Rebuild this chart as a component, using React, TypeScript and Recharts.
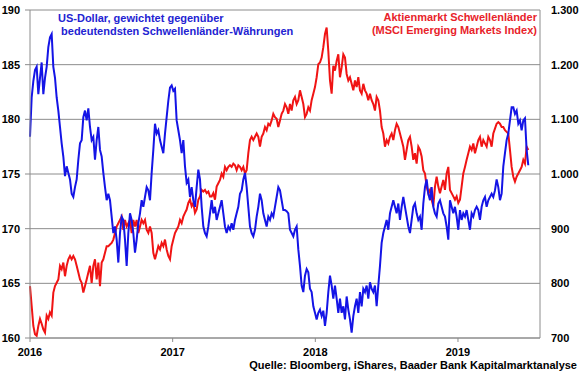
import { LineChart, Line, XAxis, YAxis, CartesianGrid } from "recharts";

// sampled roughly every 4 days, starting 1 Jan 2016
const startYear = 2016;
const samplesPerYear = 85.6;

const usdVsEmCurrencies = [
  178.4, 182.0, 183.5, 184.5, 184.8, 182.3, 183.8, 185.2, 182.3, 183.8,
  184.8, 186.6, 187.5, 187.8, 184.8, 183.8, 182.0, 180.8, 179.3, 177.8,
  176.6, 174.8, 175.7, 175.1, 174.5, 173.2, 172.9, 173.8, 174.5, 176.3,
  177.8, 178.1, 180.2, 180.8, 179.9, 181.0, 179.3, 178.1, 178.4, 176.3,
  178.1, 179.3, 177.2, 176.6, 175.1, 173.8, 172.6, 173.2, 172.6, 171.1,
  169.6, 170.2, 169.0, 166.9, 169.6, 171.1, 170.8, 169.0, 166.6, 169.6,
  171.4, 170.8, 169.6, 167.8, 169.0, 170.5, 171.4, 172.6, 172.0, 172.9,
  173.8, 173.5, 172.6, 175.1, 177.2,
  179.6, 178.7, 179.0, 178.1, 177.5, 176.9, 178.7, 180.2, 181.7, 182.9,
  183.1, 182.6, 182.8, 179.9, 179.0, 178.1, 176.9, 178.1, 175.7, 174.2,
  174.5, 172.9, 173.8, 172.6, 172.0, 173.8, 175.4, 174.5, 172.0, 170.2,
  169.6, 169.3, 170.2, 171.4, 172.6, 171.4, 172.0, 170.8, 171.4, 172.0,
  172.6, 171.4, 170.2, 169.6, 170.2, 169.9, 170.5, 169.9, 170.8, 171.4,
  172.0, 173.2, 173.5, 174.5, 175.1, 173.8, 172.0, 170.2, 169.6, 169.3,
  169.9, 171.1, 172.0, 173.2, 172.6, 171.4, 170.8, 170.2, 171.1, 170.8,
  171.4, 171.1, 172.0, 172.9, 173.8, 173.5, 172.6, 171.7,
  171.7, 171.6, 171.4, 169.9, 169.6, 169.3, 169.9, 170.2, 168.1, 166.6,
  164.8, 164.2, 165.7, 166.3, 166.0, 164.5, 164.2, 162.9, 162.3, 161.7,
  162.3, 162.6, 162.0, 162.5, 161.1, 162.3, 164.2, 165.7, 164.8, 163.6,
  164.8, 163.6, 162.3, 163.6, 162.3, 162.9, 161.7, 163.8, 162.6, 161.7,
  160.5, 162.0, 162.9, 163.6, 162.3, 164.2, 162.9, 164.5, 164.2, 164.8,
  163.6, 165.1, 164.5, 164.2, 164.8, 162.9, 164.8, 166.6, 168.7, 169.6,
  170.2, 170.8, 169.9, 171.4, 172.0, 172.6, 172.0, 171.4, 172.3, 170.8,
  172.0, 172.9, 172.0, 171.1, 170.2, 169.6, 170.8, 172.0,
  172.3, 171.4, 170.8, 171.1, 169.9, 172.3, 173.8, 174.5, 173.2, 172.6,
  173.8, 172.0, 171.4, 171.1, 172.3, 172.6, 172.0, 171.4, 171.1, 170.2,
  169.0, 172.6, 172.0, 171.4, 172.0, 171.1, 169.9, 171.7, 170.8, 171.4,
  171.1, 171.7, 170.8, 169.9, 171.4, 171.1, 171.7, 172.0, 171.7, 170.8,
  172.0, 172.6, 172.9, 172.0, 172.6, 172.9, 173.2, 172.9, 173.5, 174.5,
  173.8, 172.6, 173.2, 175.7, 176.9, 178.1, 178.7, 179.9, 181.1, 181.1,
  180.5, 180.8, 179.6, 179.9, 179.0, 179.9, 180.1, 177.2, 175.8,
];

const msciEmergingMarkets = [
  795, 759, 722, 707, 704, 722, 735, 726, 716, 710,
  741, 735, 747, 741, 783, 795, 801, 807, 832, 826,
  838, 813, 832, 844, 850, 844, 850, 844, 832, 820,
  807, 801, 783, 795, 807, 820, 832, 801, 832, 844,
  807, 838, 795, 838, 844, 856, 868, 868, 871, 874,
  880, 892, 904, 910, 916, 922, 898, 916, 904, 910,
  916, 892, 916, 904, 916, 892, 904, 916, 910, 916,
  898, 892, 904, 892, 856,
  844, 856, 868, 862, 874, 868, 880, 862, 850, 844,
  868, 880, 892, 898, 904, 916, 910, 922, 929, 935,
  947, 953, 941, 947, 929, 935, 953, 959, 971, 968,
  971, 965, 968, 959, 959, 965, 953, 977, 983, 989,
  1001, 995, 1013, 1007, 1013, 1016, 1013, 1019, 1016, 1007,
  1016, 1013, 1007, 1013, 1001, 1007, 1038, 1062, 1068, 1062,
  1068, 1074, 1068, 1050, 1068, 1074, 1086, 1080, 1092, 1089,
  1098, 1110, 1104, 1101, 1086, 1098, 1110, 1116,
  1128, 1122, 1110, 1128, 1116, 1135, 1141, 1128, 1135, 1153,
  1141, 1128, 1104, 1110, 1122, 1116, 1135, 1147, 1159, 1177,
  1201, 1204, 1213, 1232, 1256, 1268, 1225, 1171, 1147, 1198,
  1189, 1207, 1219, 1177, 1195, 1219, 1213, 1183, 1171, 1177,
  1165, 1153, 1171, 1159, 1177, 1153, 1147, 1165, 1153, 1147,
  1135, 1147, 1135, 1128, 1116, 1141, 1135, 1116, 1086, 1074,
  1050, 1062, 1056, 1068, 1074, 1062, 1080, 1092, 1086, 1074,
  1062, 1050, 1026, 1044, 1062, 1068, 1050, 1026,
  1038, 1019, 1050, 1044, 1032, 1007, 1001, 977, 965, 971,
  953, 941, 977, 995, 977, 965, 977, 989, 971, 1001,
  1013, 971, 965, 959, 953, 959, 947, 953, 977, 1001,
  1013, 1026, 1038, 1050, 1044, 1056, 1038, 1050, 1062, 1068,
  1050, 1062, 1056, 1050, 1068, 1062, 1050, 1074, 1083, 1092,
  1095, 1092, 1086, 1086, 1080, 1077, 1074, 1044, 1013, 995,
  986, 995, 1001, 1007, 1013, 1026, 1019, 1050, 1044,
];

const yearTicks = [2016, 2017, 2018, 2019];
const usdTicks = [160, 165, 170, 175, 180, 185, 190];
const msciTicks = [700, 800, 900, 1000, 1100, 1200, 1300];

const data = usdVsEmCurrencies.map((usd, i) => ({
  t: startYear + i / samplesPerYear,
  usd,
  msci: msciEmergingMarkets[i],
}));

const fmtThousands = (v: number) =>
  v >= 1000 ? `${Math.floor(v / 1000)}.${String(v % 1000).padStart(3, "0")}` : String(v);

const font = '"Liberation Sans", Arial, sans-serif';
const grey = "#8c8c8c";
const tickStyle = { fontSize: 11, fontWeight: 700, fill: "#000", fontFamily: font };

export default function App() {
  return (
    <div style={{ position: "absolute", left: 0, top: 0, width: 580, height: 375, background: "#fff", fontFamily: font }}>
      <LineChart width={580} height={375} data={data} margin={{ top: 10, right: 0, bottom: 13, left: 0 }}>
        <CartesianGrid yAxisId="usd" vertical={false} stroke={grey} strokeWidth={1} />
        <XAxis
          dataKey="t"
          type="number"
          domain={[2016, 2019.575]}
          ticks={yearTicks}
          tickFormatter={(v) => String(v)}
          height={24}
          stroke={grey}
          tickSize={4}
          tickMargin={6}
          tick={tickStyle}
        />
        <YAxis
          yAxisId="usd"
          domain={[160, 190]}
          ticks={usdTicks}
          width={30}
          stroke={grey}
          tickSize={5}
          tickMargin={5}
          tick={tickStyle}
          interval={0}
        />
        <YAxis
          yAxisId="msci"
          orientation="right"
          domain={[700, 1300]}
          ticks={msciTicks}
          width={40}
          stroke={grey}
          tickLine={false}
          tickSize={5}
          tickMargin={6}
          tick={{ ...tickStyle, textAnchor: "start" }}
          tickFormatter={fmtThousands}
          interval={0}
        />
        <Line yAxisId="msci" dataKey="msci" stroke="#f01414" strokeWidth={2} dot={false} isAnimationActive={false} type="linear" />
        <Line yAxisId="usd" dataKey="usd" stroke="#1414e6" strokeWidth={2} dot={false} isAnimationActive={false} type="linear" />
      </LineChart>

      <div style={{ position: "absolute", left: 58, top: 12, fontSize: 11, fontWeight: 700, lineHeight: "13px", color: "#2323d2", whiteSpace: "nowrap" }}>
        US-Dollar, gewichtet gegenüber
        <br />
        &nbsp;bedeutendsten Schwellenländer-Währungen
      </div>
      <div style={{ position: "absolute", right: 43, top: 11, fontSize: 11, fontWeight: 700, lineHeight: "13px", color: "#e8232a", textAlign: "right", whiteSpace: "nowrap" }}>
        Aktienmarkt Schwellenländer
        <br />
        (MSCI Emerging Markets Index)
      </div>
      <div style={{ position: "absolute", right: 3, top: 359, fontSize: 11, fontWeight: 700, lineHeight: "13px", color: "#000", whiteSpace: "nowrap" }}>
        Quelle: Bloomberg, iShares, Baader Bank Kapitalmarktanalyse
      </div>
    </div>
  );
}
